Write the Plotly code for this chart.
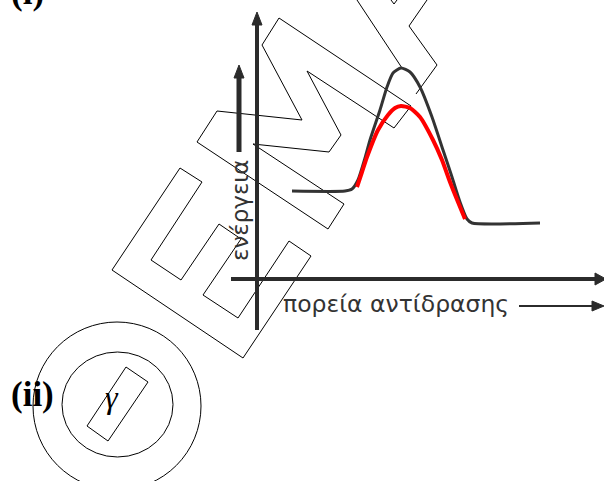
import plotly.graph_objects as go

# energy profile, uncatalysed (black) and catalysed (red)
black_x = [292, 345, 352, 358, 365, 370, 380, 387, 393, 401, 410, 420, 432, 443, 452, 460, 467, 472, 540]
black_y = [191, 191, 189, 180, 158, 140, 110, 87, 73, 68, 72, 87, 117, 150, 177, 202, 219, 223, 223]
red_x = [357, 362, 367, 378, 388, 395, 401, 410, 420, 433, 442, 450, 458, 465]
red_y = [187, 172, 157, 130, 115, 108, 106, 108, 117, 140, 160, 182, 202, 219]

y_label = "ενέργεια"
x_label = "πορεία αντίδρασης"

# watermark outlines (pixel coordinates of the page)
wm_e = [(112, 270), (180, 168), (202, 182), (151, 260), (181, 280), (219, 224), (241, 239),
        (203, 295), (238, 318), (289, 241), (311, 256), (243, 358)]
wm_m = [(197, 142), (217, 111), (302, 120), (262, 45), (279, 18), (411, 106), (394, 128),
        (307, 71), (341, 135), (329, 152), (253, 144), (344, 204), (328, 229)]
wm_open = [[(357, 0), (402, 68)],
           [(427, 0), (409, 26), (437, 65), (416, 94)],
           [(391, 0), (394, 4), (397, 0)]]
wm_rect = [(126, 367), (148, 382), (108, 441), (87, 426)]

INK = "#2b2b2b"
W, H = 604, 481


def path(pts, closed=True):
    s = "M " + " L ".join(f"{x},{y}" for x, y in pts)
    return s + (" Z" if closed else "")


fig = go.Figure()

fig.add_trace(go.Scatter(x=black_x, y=black_y, mode="lines",
                         line=dict(color="#333333", width=3, shape="spline", smoothing=0.6),
                         hoverinfo="skip"))
fig.add_trace(go.Scatter(x=red_x, y=red_y, mode="lines",
                         line=dict(color="#ff0000", width=4, shape="spline", smoothing=0.6),
                         hoverinfo="skip"))

shapes = []
thin = dict(color="black", width=1)
for pts in (wm_e, wm_m, wm_rect):
    shapes.append(dict(type="path", path=path(pts), line=thin, layer="below"))
for pts in wm_open:
    shapes.append(dict(type="path", path=path(pts, closed=False), line=thin, layer="below"))
shapes.append(dict(type="circle", x0=33, x1=201, y0=322, y1=490, line=thin, layer="below"))
shapes.append(dict(type="circle", x0=62, x1=173, y0=352, y1=457, line=thin, layer="below"))

# axes with arrow heads
shapes += [
    dict(type="line", x0=257, x1=257, y0=330, y1=22, line=dict(color=INK, width=4)),
    dict(type="path", path=path([(257, 12), (252, 25), (262, 25)]), fillcolor=INK, line=dict(color=INK, width=1)),
    dict(type="line", x0=231, x1=598, y0=279, y1=279, line=dict(color=INK, width=4)),
    dict(type="path", path=path([(606, 279), (595, 273), (595, 285)]), fillcolor=INK, line=dict(color=INK, width=1)),
    dict(type="line", x0=239, x1=239, y0=152, y1=75, line=dict(color=INK, width=5)),
    dict(type="path", path=path([(239, 65), (234, 78), (244, 78)]), fillcolor=INK, line=dict(color=INK, width=1)),
    dict(type="line", x0=519, x1=594, y0=306, y1=306, line=dict(color=INK, width=2)),
    dict(type="path", path=path([(604, 306), (592, 301), (592, 311)]), fillcolor=INK, line=dict(color=INK, width=1)),
]

sans = "DejaVu Sans"
serif = "Liberation Serif"
annotations = [
    dict(x=240, y=211, text=y_label, textangle=-90, showarrow=False,
         font=dict(family=sans, size=23, color="#333333")),
    dict(x=281, y=304, text=x_label, xanchor="left", showarrow=False,
         font=dict(family=sans, size=23.5, color="#333333")),
    dict(x=9, y=394, text="<b>(ii)</b>", xanchor="left", showarrow=False,
         font=dict(family=serif, size=35, color="black")),
    dict(x=112, y=397, text="<i>γ</i>", showarrow=False,
         font=dict(family=serif, size=32, color="black")),
    # label of part (i), cut by the top edge as in the source page
    dict(x=9 / W, y=1 - 14 / H, xref="paper", yref="paper", text="<b>(i)</b>",
         xanchor="left", yanchor="bottom", showarrow=False,
         font=dict(family=serif, size=35, color="black")),
]

fig.update_layout(
    width=W, height=H,
    margin=dict(l=0, r=0, t=0, b=0),
    paper_bgcolor="white", plot_bgcolor="white",
    showlegend=False,
    shapes=shapes,
    annotations=annotations,
    xaxis=dict(range=[0, W], visible=False, fixedrange=True),
    yaxis=dict(range=[H, 0], visible=False, fixedrange=True),
)

fig.write_html("out.html", config={"displayModeBar": False},
               post_script="document.body.style.margin='0';document.body.style.overflow='hidden';")
